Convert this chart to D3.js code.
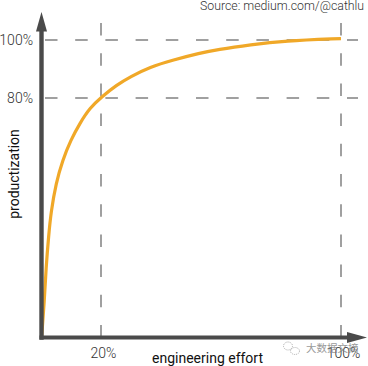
<!DOCTYPE html>
<html>
<head>
<meta charset="utf-8">
<script src="https://cdn.jsdelivr.net/npm/d3@7"></script>
<style>
    html, body { margin: 0; padding: 0; background: #fff; }
    svg { display: block; }
    text { font-family: Roboto, sans-serif; }
    .tick text { font-size: 14px; font-weight: 300; fill: #333; }
    .grid { stroke: #a0a0a0; stroke-width: 2; stroke-dasharray: 12.5 17.7; }
    .label { font-size: 14px; fill: #111; }
</style>
</head>
<body>
<div id="chart"></div>
<script>
// values, in percent
const effort = [0.2, 1.1, 1.67, 2.57, 3.33, 5, 7.2, 9.9, 13, 16.3, 20.2, 25.2, 29.7, 36.3, 44, 53, 58.7, 70, 81, 100];
const product = [-2.4, 9.7, 21.4, 32.8, 40.7, 50.7, 58.6, 65.5, 71.4, 76.6, 80.4, 84.5, 87.3, 90.7, 93.1, 95.5, 96.7, 98.4, 99.7, 100.5];
const xTicks = [20, 100];
const yTicks = [80, 100];

const width = 368, height = 366;
const axisColor = "#4a4a4a", curveColor = "#f0a828";

const svg = d3.select("#chart").append("svg")
    .attr("width", width)
    .attr("height", height);

// the zero of the value axis sits a little above the drawn x axis line
const xScale = d3.scaleLinear().domain([0, 100]).range([41, 341]);
const yScale = d3.scaleLinear().domain([-2.5, 100]).range([337.5, 40]);

// dashed guides
svg.append("g").selectAll("line")
    .data(yTicks)
    .join("line")
    .attr("class", "grid")
    .attr("x1", 45)
    .attr("x2", 358)
    .attr("y1", d => yScale(d))
    .attr("y2", d => yScale(d));

svg.append("g").selectAll("line")
    .data(xTicks)
    .join("line")
    .attr("class", "grid")
    .attr("x1", d => xScale(d))
    .attr("x2", d => xScale(d))
    .attr("y1", 23)
    .attr("y2", 336);

// tick labels
const yAxis = svg.append("g")
    .attr("transform", "translate(41,0)")
    .call(d3.axisLeft(yScale).tickValues(yTicks).tickFormat(d => d + "%").tickSize(0).tickPadding(8));
yAxis.select(".domain").remove();

const xAxis = svg.append("g")
    .attr("transform", "translate(2,337)")
    .call(d3.axisBottom(xScale).tickValues(xTicks).tickFormat(d => d + "%").tickSize(0).tickPadding(11));
xAxis.select(".domain").remove();

// curve
const line = d3.line()
    .x((d, i) => xScale(effort[i]))
    .y(d => yScale(d))
    .curve(d3.curveBasis);

svg.append("path")
    .datum(product)
    .attr("d", line)
    .attr("fill", "none")
    .attr("stroke", curveColor)
    .attr("stroke-width", 3.2);

// axis arrows
svg.append("line")
    .attr("x1", 41.5).attr("x2", 41.5)
    .attr("y1", 339.7).attr("y2", 28)
    .attr("stroke", axisColor).attr("stroke-width", 4.4);
svg.append("line")
    .attr("x1", 39.5).attr("x2", 350)
    .attr("y1", 337.5).attr("y2", 337.5)
    .attr("stroke", axisColor).attr("stroke-width", 4.2);
svg.append("path")
    .attr("d", "M41.5,12L47,31.5L36,31.5Z")
    .attr("fill", axisColor);
svg.append("path")
    .attr("d", "M367,337.5L347,332L347,343Z")
    .attr("fill", axisColor);

// axis titles and source
svg.append("text")
    .attr("class", "label")
    .attr("text-anchor", "middle")
    .attr("transform", "translate(19,174) rotate(-90)")
    .text("productization");

svg.append("text")
    .attr("class", "label")
    .attr("x", 152)
    .attr("y", 363)
    .text("engineering effort");

svg.append("text")
    .attr("x", 200)
    .attr("y", 10)
    .attr("font-size", 12.3)
    .attr("font-weight", 300)
    .attr("fill", "#333")
    .text("Source: medium.com/@cathlu");

// watermark
const mark = svg.append("g").attr("fill", "none").attr("stroke", "#aaa").attr("stroke-dasharray", "1 1");
mark.append("ellipse").attr("cx", 288).attr("cy", 346).attr("rx", 4.5).attr("ry", 4);
mark.append("ellipse").attr("cx", 295).attr("cy", 351).attr("rx", 4.5).attr("ry", 3.5);

svg.append("text")
    .attr("x", 306)
    .attr("y", 352)
    .style("font-family", "'Noto Sans CJK SC'")
    .attr("font-size", 10.5)
    .attr("fill", "#777")
    .attr("opacity", 0.75)
    .text("大数据文摘");
</script>
</body>
</html>
